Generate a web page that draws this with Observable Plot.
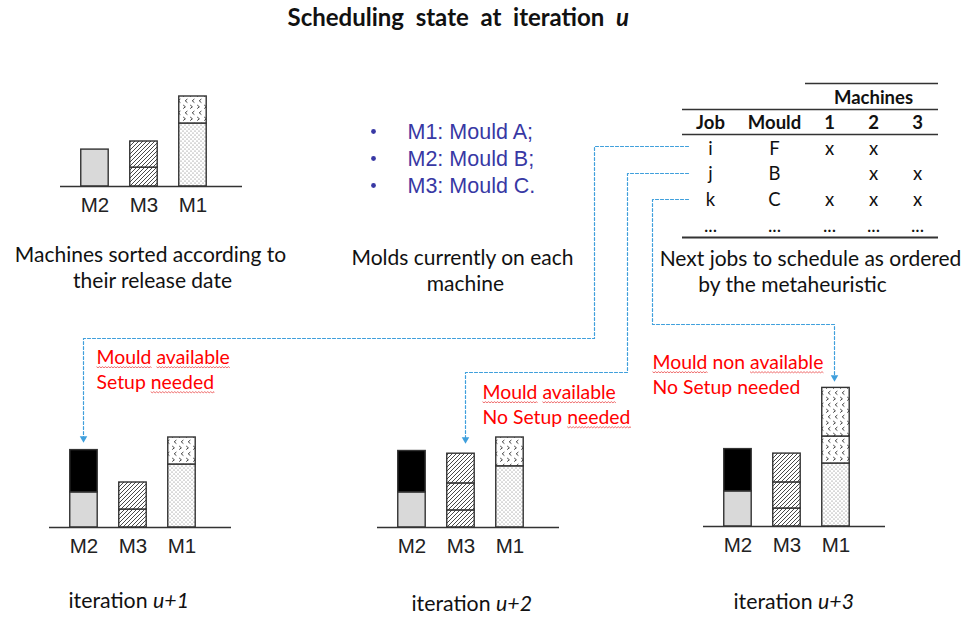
<!DOCTYPE html>
<html><head><meta charset="utf-8">
<script src="https://cdn.jsdelivr.net/npm/d3@7"></script>
<script src="https://cdn.jsdelivr.net/npm/@observablehq/plot@0.6"></script>
<style>
html,body{margin:0;padding:0;background:#fff;}
#stage{position:relative;width:979px;height:617px;overflow:hidden;background:#fff;}
#stage svg{position:absolute;}
#stage text, #stage tspan{white-space:pre;}
</style></head><body>
<div id="stage"></div>
<script>
// ---------------- DATA ----------------
const machineOrder = ["M2", "M3", "M1"];
const machineMoulds = [["M1", "A"], ["M2", "B"], ["M3", "C"]];

// job segments per machine (time units), kinds = pattern of the mould/job
const stateU  = [["M2","gray",4.1],["M3","hatch",2.1],["M3","hatch",2.9],["M1","dots",7],["M1","chevron",3]];
const stateU1 = [["M2","gray",3.9],["M2","black",4.7],["M3","hatch",2],["M3","hatch",3],["M1","dots",7],["M1","chevron",3]];
const stateU2 = [["M2","gray",3.9],["M2","black",4.6],["M3","hatch",1.9],["M3","hatch",3],["M3","hatch",3.3],["M1","dots",6.8],["M1","chevron",3.2]];
const stateU3 = [["M2","gray",3.9],["M2","black",4.7],["M3","hatch",2],["M3","hatch",2.9],["M3","hatch",3.2],["M1","dots",7],["M1","chevron",3],["M1","chevron",5.4]];

const titleText = "Scheduling  state  at  iteration  *u*";
const captionLines = [["Machines sorted according to", "their release date"],
                      ["Molds currently on each", "machine"],
                      ["Next jobs to schedule as ordered", "by the metaheuristic"]];
const tableJobs = ["i", "j", "k", "..."];
const tableMoulds = ["F", "B", "C", "..."];
const tableMachines = ["1", "2", "3"];
const eligibility = [[1,1,0],[0,1,1],[1,1,1],null];
const annotations = [["{Mould} {available}", "Setup {needed}"],
                     ["{Mould} {available}", "No Setup {needed}"],
                     ["{Mould} non {available}", "No Setup needed"]];
const iterationLabels = ["iteration *u+1*", "iteration *u+2*", "iteration *u+3*"];

// ---------------- LAYOUT / STYLE ----------------
const kindFill = {gray: "#d9d9d9", black: "#000", hatch: "url(#pat-hatch)", dots: "url(#pat-dots)", chevron: "url(#pat-chevron)"};
const P = {frameW: 182, frameH: 144, ml: 10, mr: 10, mt: 4, mb: 44, ymax: 16};
const panelBase = [[60,186],[49,527],[377,527],[703,526]];
const L = {
  title: [287, 25],
  captions: [[[150,261],[152,287]], [[462,264],[465,290]], [[810,265],[792,291]]],
  bullets: {xDot: 373, xText: 407, y0: 138, dy: 27},
  table: {cols: [710, 774, 829, 873, 917], header: 128, rows: [154, 179.5, 205, 231], machinesY: 103,
          rules: [[805,938,83,1.4],[682,938,109,1.4],[682,938,134,1.4],[682,938,237,2]]},
  annotations: [[96,363],[482,398],[652,368]], annDy: 25,
  iterations: [[68,607],[411,610],[733,608]],
  connectors: [
    [[688,146],[594,146],[594,338],[83,338],[83,438]],
    [[688,173],[627,173],[627,372],[465,372],[465,439]],
    [[688,199],[652,199],[652,324],[834,324],[834,377]]
  ]
};
const BLUE_LINE = "#3f9fdc", BULLET_BLUE = "#3838a4", RED = "#ff0000";

// ---------------- PATTERNS ----------------
const stage = document.getElementById("stage");
stage.insertAdjacentHTML("beforeend", `
<svg width="0" height="0" style="position:absolute;left:0;top:0">
<defs>
<pattern id="pat-hatch" patternUnits="userSpaceOnUse" width="4" height="4">
  <rect width="4" height="4" fill="#fff"/>
  <path d="M-1,1 L1,-1 M0,4 L4,0 M3,5 L5,3" stroke="#333" stroke-width="0.9"/>
</pattern>
<pattern id="pat-dots" patternUnits="userSpaceOnUse" width="4" height="4">
  <rect width="4" height="4" fill="#fff"/>
  <circle cx="1" cy="1" r="0.55" fill="#666"/>
  <circle cx="3" cy="3" r="0.55" fill="#666"/>
</pattern>
<pattern id="pat-chevron" patternUnits="userSpaceOnUse" width="14" height="12">
  <rect width="14" height="12" fill="#fff"/>
  <path d="M4.4,1 L2.2,2.8 L4.4,4.6 M11.4,1 L9.2,2.8 L11.4,4.6 M7.2,7 L9.4,8.8 L7.2,10.6 M0.2,7 L2.4,8.8 L0.2,10.6" stroke="#444" stroke-width="1" fill="none"/>
</pattern>
</defs></svg>`);

// ---------------- OVERLAY (text, table, connectors) ----------------
const captions = captionLines.flatMap((lines, i) => lines.map((t, j) => ({text: t, x: L.captions[i][j][0], y: L.captions[i][j][1]})));
const bullets = machineMoulds.map(([m, mould], i) => ({text: `${m}: Mould ${mould}${i < machineMoulds.length - 1 ? ";" : "."}`, y: L.bullets.y0 + i * L.bullets.dy}));
const headerCells = ["Job", "Mould", ...tableMachines].map((t, c) => ({text: t, x: L.table.cols[c], y: L.table.header}));
const cells = [];
tableJobs.forEach((job, r) => {
  const row = eligibility[r];
  const vals = [job, tableMoulds[r], ...tableMachines.map((m, c) => row === null ? "..." : row[c] ? "x" : "")];
  vals.forEach((v, c) => cells.push({text: v, x: L.table.cols[c], y: L.table.rows[r]}));
});
const tableRules = L.table.rules.map(([x1, x2, y, w]) => ({x1, x2, y, w}));
const annLines = annotations.flatMap((lines, i) => lines.map((t, j) => ({text: t, x: L.annotations[i][0], y: L.annotations[i][1] + j * L.annDy})));
const iterLines = iterationLabels.map((t, i) => ({text: t, x: L.iterations[i][0], y: L.iterations[i][1]}));
const connPts = L.connectors.flatMap((pts, k) => pts.map(([x, y]) => ({k, x, y})));
const connTips = L.connectors.map(pts => ({x: pts[pts.length - 1][0], y: pts[pts.length - 1][1]}));

const overlay = Plot.plot({
  width: 979, height: 617, margin: 0,
  x: {domain: [0, 979], range: [0, 979], axis: null},
  y: {domain: [0, 617], range: [0, 617], axis: null},
  style: {background: "transparent", fontFamily: "Lato, sans-serif"},
  marks: [
    Plot.line(connPts, {x: "x", y: "y", z: "k", stroke: BLUE_LINE, strokeWidth: 1.2, strokeDasharray: "3,2", curve: "linear"}),
    Plot.dot(connTips, {x: "x", y: "y", symbol: "triangle", rotate: 180, r: 2.8, fill: BLUE_LINE, stroke: "none"}),
    Plot.text([titleText], {x: L.title[0], y: L.title[1], text: d => d, textAnchor: "start", lineAnchor: "bottom", fontSize: 24, fontWeight: "bold", fill: "#111"}),
    Plot.text(captions, {x: "x", y: "y", text: "text", textAnchor: "middle", lineAnchor: "bottom", fontSize: 21, fill: "#111"}),
    Plot.dot(bullets, {x: L.bullets.xDot, y: d => d.y - 7, r: 2.4, fill: BULLET_BLUE, stroke: "none"}),
    Plot.text(bullets, {x: L.bullets.xText, y: "y", text: "text", textAnchor: "start", lineAnchor: "bottom", fontSize: 21.5, fontFamily: "Liberation Sans, Arial, sans-serif", fill: BULLET_BLUE}),
    Plot.ruleY(tableRules, {x1: "x1", x2: "x2", y: "y", strokeWidth: "w", stroke: "#333"}),
    Plot.text(["Machines"], {x: L.table.cols[3], y: L.table.machinesY, text: d => d, lineAnchor: "bottom", fontSize: 18.5, fontWeight: "bold", fill: "#111"}),
    Plot.text(headerCells, {x: "x", y: "y", text: "text", lineAnchor: "bottom", fontSize: 18.5, fontWeight: "bold", fill: "#111"}),
    Plot.text(cells, {x: "x", y: "y", text: "text", lineAnchor: "bottom", fontSize: 18.5, fill: "#111"}),
    Plot.text(annLines, {x: "x", y: "y", text: "text", textAnchor: "start", lineAnchor: "bottom", fontSize: 19.4, fill: RED}),
    Plot.text(iterLines, {x: "x", y: "y", text: "text", textAnchor: "start", lineAnchor: "bottom", fontSize: 21.3, fill: "#111"})
  ]
});
overlay.style.left = "0px"; overlay.style.top = "0px";
stage.appendChild(overlay);

// ---------------- BAR PANELS ----------------
function panel(rows) {
  const data = rows.map(([machine, kind, value]) => ({machine, kind, value}));
  return Plot.plot({
    width: P.frameW + P.ml + P.mr, height: P.frameH + P.mt + P.mb,
    marginLeft: P.ml, marginRight: P.mr, marginTop: P.mt, marginBottom: P.mb,
    x: {domain: machineOrder, paddingInner: 0.44, paddingOuter: 0.577, align: 0.367, round: false, axis: null},
    y: {domain: [0, P.ymax], axis: null},
    color: {type: "identity"},
    style: {background: "transparent", fontFamily: "Liberation Sans, Arial, sans-serif", overflow: "visible"},
    marks: [
      Plot.barY(data, {x: "machine", y: "value", fill: d => kindFill[d.kind], stroke: "#333", strokeWidth: 1.4}),
      Plot.ruleY([0], {stroke: "#333", strokeWidth: 1.3}),
      Plot.axisX({tickSize: 0, tickPadding: 11, fontSize: 20.5, fill: "#222", label: null})
    ]
  });
}
[stateU, stateU1, stateU2, stateU3].forEach((rows, i) => {
  const svg = panel(rows);
  svg.style.left = (panelBase[i][0] - P.ml) + "px";
  svg.style.top = (panelBase[i][1] - P.mt - P.frameH) + "px";
  stage.appendChild(svg);
});

// ---------------- rich text: *italic*, {spell-check squiggle} ----------------
const NS = "http://www.w3.org/2000/svg";
Array.from(overlay.querySelectorAll("text")).filter(t => /[*{]/.test(t.textContent)).forEach(t => {
  const raw = t.textContent;
  while (t.firstChild) t.removeChild(t.firstChild);
  const parts = raw.split(/(\*[^*]+\*|\{[^}]+\})/).filter(s => s);
  const squig = [];
  let idx = 0;
  for (const p of parts) {
    const ts = document.createElementNS(NS, "tspan");
    let s = p;
    if (p[0] === "*") { s = p.slice(1, -1); ts.setAttribute("font-style", "italic"); }
    else if (p[0] === "{") { s = p.slice(1, -1); squig.push([idx, idx + s.length - 1]); }
    ts.textContent = s;
    t.appendChild(ts);
    idx += s.length;
  }
  for (const [a, b] of squig) {
    const p0 = t.getStartPositionOfChar(a), p1 = t.getEndPositionOfChar(b);
    const y = p0.y + 3.2;
    let d = `M${p0.x},${y}`;
    for (let x = p0.x, k = 0; x < p1.x; x += 1.5, k++) d += ` L${Math.min(x + 1.5, p1.x)},${y + (k % 2 ? 0 : 1.1)}`;
    const path = document.createElementNS(NS, "path");
    path.setAttribute("d", d);
    path.setAttribute("fill", "none");
    path.setAttribute("stroke", "#e83030");
    path.setAttribute("stroke-width", "0.7");
    if (t.getAttribute("transform")) path.setAttribute("transform", t.getAttribute("transform"));
    t.parentNode.appendChild(path);
  }
});
</script>
</body></html>
